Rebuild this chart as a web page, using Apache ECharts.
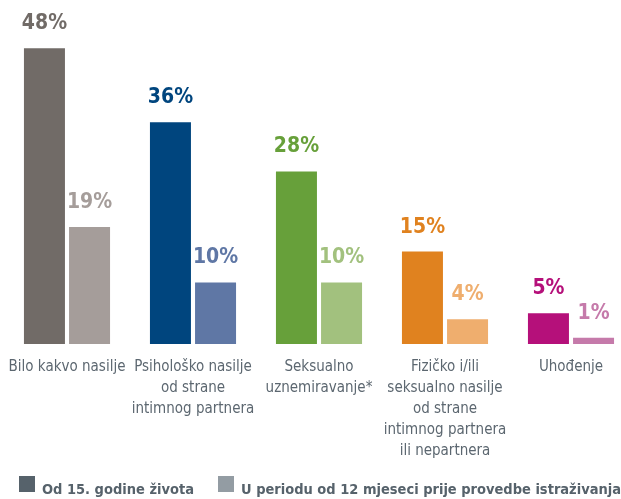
<!DOCTYPE html>
<html><head><meta charset="utf-8">
<script src="https://cdn.jsdelivr.net/npm/echarts@6/dist/echarts.min.js"></script>
<style>html,body{margin:0;padding:0;background:#fff}#c{width:621px;height:499px}</style>
</head><body><div id="c"></div>
<script>
const categories = ["Bilo kakvo nasilje", "Psihološko nasilje\nod strane\nintimnog partnera", "Seksualno\nuznemiravanje*", "Fizičko i/ili\nseksualno nasilje\nod strane\nintimnog partnera\nili nepartnera", "Uhođenje"];
const seriesNames = ["Od 15. godine života", "U periodu od 12 mjeseci prije provedbe istraživanja"];
const lifetime = [48, 36, 28, 15, 5];
const last12 = [19, 10, 10, 4, 1];
const darkColors = ["#716b67", "#00457e", "#67a03a", "#e0821f", "#b5107a"];
const lightColors = ["#a59d9a", "#5f77a5", "#a2c17e", "#efae6e", "#c57aaa"];
const legendColors = ["#56626b", "#939ca3"];

const FONT = "'DejaVu Sans Condensed', sans-serif";

function mk(vals, cols) {
  return vals.map((v, i) => ({
    value: v,
    itemStyle: { color: cols[i] },
    label: { color: cols[i] }
  }));
}
const legendLefts = [19, 218];
const chart = echarts.init(document.getElementById('c'));
chart.setOption({
  animation: false,
  grid: { left: 4, top: 36, width: 630, bottom: 155, containLabel: false, outerBoundsMode: 'none' },
  legend: seriesNames.map((n, i) => ({
    left: legendLefts[i], top: 476, width: 800, itemWidth: 16, itemHeight: 16, padding: 0,
    icon: 'rect',
    data: [{ name: n, itemStyle: { color: legendColors[i] } }],
    formatter: '{t|{name}}',
    textStyle: {
      fontFamily: FONT, fontSize: 14.5, fontWeight: 'bold', color: '#56626b',
      rich: { t: { fontFamily: FONT, fontSize: 14.5, fontWeight: 'bold', color: '#56626b', padding: [12, 0, 0, 2] } }
    }
  })),
  xAxis: {
    type: 'category', data: categories,
    axisLine: { show: false }, axisTick: { show: false },
    axisLabel: { interval: 0, margin: 13, fontFamily: FONT, fontSize: 15, lineHeight: 21, color: '#5c6770', align: 'center', verticalAlign: 'top' }
  },
  yAxis: { type: 'value', min: 0, max: 50, show: false, splitLine: { show: false } },
  series: [
    { name: seriesNames[0], type: 'bar', barWidth: 41, barGap: '10%', data: mk(lifetime, darkColors),
      itemStyle: { color: legendColors[0] },
      label: { show: true, position: 'top', distance: 14, formatter: '{c}%', fontFamily: FONT, fontSize: 21, fontWeight: 'bold' } },
    { name: seriesNames[1], type: 'bar', barWidth: 41, barGap: '10%', data: mk(last12, lightColors),
      itemStyle: { color: legendColors[1] },
      label: { show: true, position: 'top', distance: 14, formatter: '{c}%', fontFamily: FONT, fontSize: 21, fontWeight: 'bold' } }
  ]
});
</script></body></html>
